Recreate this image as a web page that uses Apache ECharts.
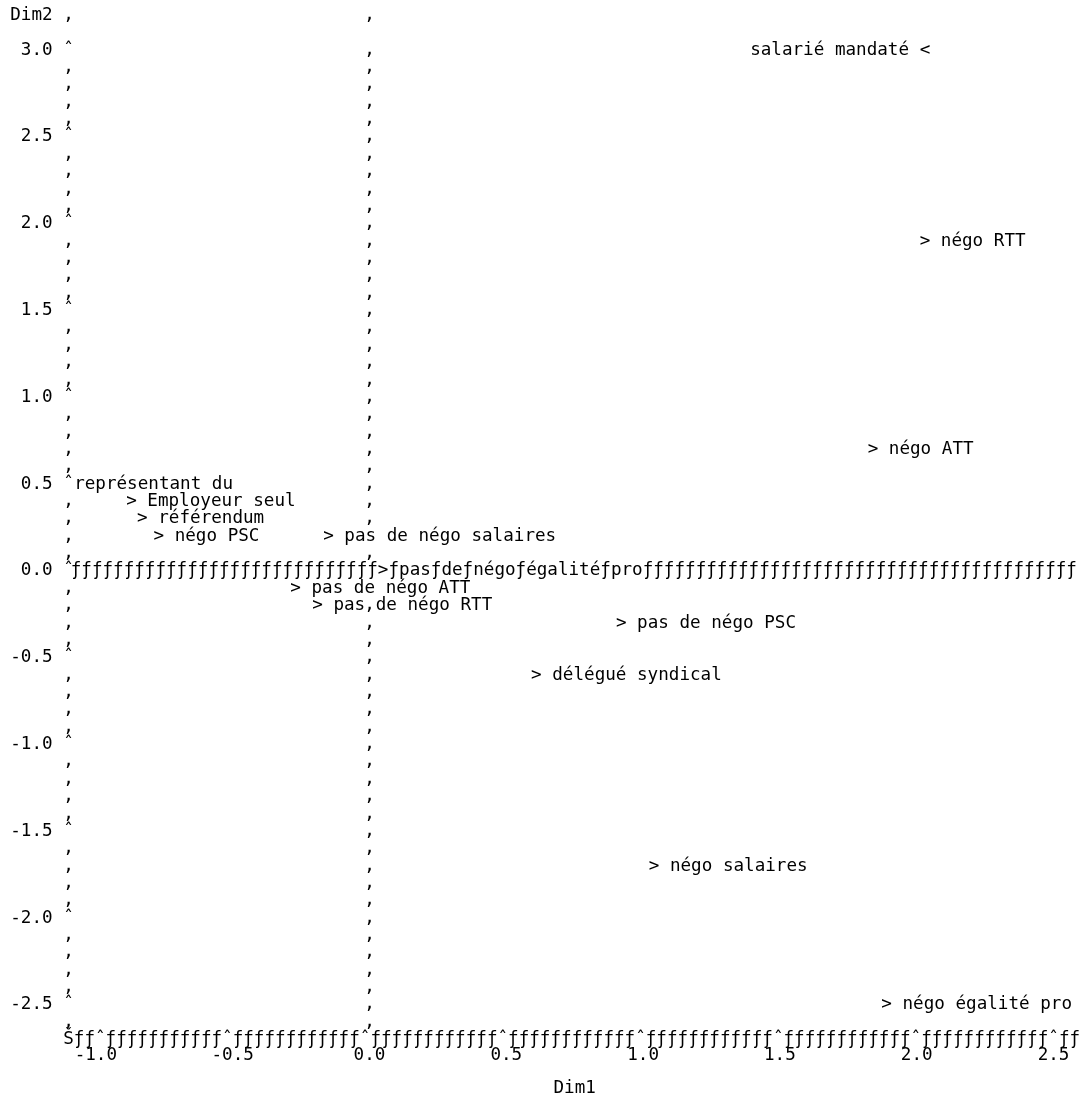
<!DOCTYPE html>
<html><head><meta charset="utf-8">
<script src="https://cdn.jsdelivr.net/npm/echarts@6/dist/echarts.min.js"></script>
<style>html,body{margin:0;padding:0;background:#fff}#chart{width:1082px;height:1100px}</style>
</head><body><div id="chart"></div>
<script>
// ---------- data ----------
const categories = ['salarié mandaté', 'négo RTT', 'négo ATT', 'représentant du', 'Employeur seul',
  'référendum', 'négo PSC', 'pas de négo salaires', 'pas de négo égalité pro', 'pas de négo ATT',
  'pas de négo RTT', 'pas de négo PSC', 'délégué syndical', 'négo salaires', 'négo égalité pro'];
const dim1 = [2.03, 2.03, 1.84, -1.06, -0.87, -0.83, -0.77, -0.15, 0.05, -0.27, -0.19, 0.92, 0.61, 1.04, 1.89];
const dim2 = [3.0, 1.9, 0.7, 0.5, 0.4, 0.3, 0.2, 0.2, 0.0, -0.1, -0.2, -0.3, -0.6, -1.7, -2.5];
const labelOnLeft = ['salarié mandaté'];
const noPointer = ['représentant du'];
const xTicks = [-1.0, -0.5, 0.0, 0.5, 1.0, 1.5, 2.0, 2.5];
const yTicks = [3.0, 2.5, 2.0, 1.5, 1.0, 0.5, 0.0, -0.5, -1.0, -1.5, -2.0, -2.5];
const xTitle = 'Dim1';
const yTitle = 'Dim2';

// ---------- layout ----------
const FONT = '"DejaVu Sans Mono", monospace';
const FS = 17.6;
const X_MIN = -1.1, X_MAX = 2.6, Y_MIN = -2.7, Y_MAX = 3.2, STEP = 0.1;
const GRID = { left: 68.5, right: 1.1, top: 15.4, bottom: 60.4 };
const W = 1082;
const pxPerX = (W - GRID.left - GRID.right) / (X_MAX - X_MIN);
const ctx = document.createElement('canvas').getContext('2d');
ctx.font = FS + 'px ' + FONT;
const pitch = ctx.measureText('ƒ'.repeat(100)).width / 100;
const cw = pitch / pxPerX;               // one character width in Dim1 units
const lastCol = Math.floor((X_MAX - X_MIN) / cw);
const row = v => Math.round(v * 10);

function pointText(i) {
  const n = categories[i];
  let t;
  if (noPointer.includes(n)) t = n;
  else if (labelOnLeft.includes(n)) t = n + ' <';
  else t = '> ' + n;
  if (row(dim2[i]) === 0) t = t.replace(/ /g, 'ƒ');   // label lying on the reference line
  return t;
}
function firstCharX(i) {
  const t = pointText(i);
  return labelOnLeft.includes(categories[i]) ? dim1[i] - (t.length - 1) * cw : dim1[i];
}
function coversZero(r) {
  for (let i = 0; i < categories.length; i++) {
    if (row(dim2[i]) !== r) continue;
    const t = pointText(i);
    const k = Math.round((0 - firstCharX(i)) / cw);
    if (k >= 0 && k < t.length && t[k] !== ' ') return true;
  }
  return false;
}

const txt = { fontFamily: FONT, fontSize: FS, color: '#000', textBorderWidth: 0, opacity: 1 };
const lbl = (text, right) => Object.assign({
  show: true, formatter: text, position: [0.5, 0.5],
  align: right ? 'right' : 'left', verticalAlign: 'middle',
  offset: [right ? pitch / 2 : -pitch / 2, 0]
}, txt);

// frame rows made of characters
let bottomRow = '';
const tickCols = xTicks.map(t => Math.round((t - X_MIN) / cw));
for (let c = 0; c <= lastCol; c++) {
  bottomRow += c === 0 ? 'Š' : (tickCols.includes(c) ? 'ˆ' : 'ƒ');
}
const frameData = [{ value: [X_MIN, Y_MIN], label: lbl(bottomRow, false) }];

// reference line at Dim2 = 0, interrupted by labels lying on it
const onLine = categories.map((n, i) => i).filter(i => row(dim2[i]) === 0)
  .sort((a, b) => firstCharX(a) - firstCharX(b));
let s = X_MIN + cw;
onLine.forEach(i => {
  const f = firstCharX(i);
  const n = Math.round((f - s) / cw);
  if (n > 0) frameData.push({ value: [f - cw, 0], label: lbl('ƒ'.repeat(n), true) });
  s = f + pointText(i).length * cw;
});
const nEnd = Math.floor((X_MAX - s) / cw + 0.5);
if (nEnd > 0) frameData.push({ value: [s, 0], label: lbl('ƒ'.repeat(nEnd), false) });

const pointData = categories.map((n, i) => ({
  name: n, value: [dim1[i], dim2[i]], label: lbl(pointText(i), labelOnLeft.includes(n))
}));

const noLines = { axisTick: { show: false }, splitLine: { show: false } };

const chart = echarts.init(document.getElementById('chart'), null, { renderer: 'canvas' });
chart.setOption({
  animation: false,
  backgroundColor: '#fff',
  grid: Object.assign({ containLabel: false, outerBoundsMode: 'none' }, GRID),
  xAxis: [Object.assign({
    type: 'value', min: X_MIN, max: X_MAX, interval: STEP, position: 'bottom',
    axisLine: { show: false, onZero: false },
    name: xTitle, nameLocation: 'middle', nameGap: 49,
    nameTextStyle: Object.assign({ verticalAlign: 'middle' }, txt),
    axisLabel: Object.assign({
      margin: 15.4, verticalAlign: 'middle', hideOverlap: false, showMinLabel: true, showMaxLabel: true,
      formatter: v => { const t = xTicks.find(x => row(x) === row(v)); return t === undefined ? '' : t.toFixed(1); }
    }, txt)
  }, noLines)],
  yAxis: [
    Object.assign({
      type: 'value', min: Y_MIN, max: Y_MAX, interval: STEP, position: 'left',
      axisLine: { show: false, onZero: false },
      axisLabel: Object.assign({
        margin: -pitch / 2, align: 'right', verticalAlign: 'middle', hideOverlap: false,
        showMinLabel: true, showMaxLabel: true,
        formatter: v => {
          const r = row(v);
          if (r === row(Y_MAX)) return yTitle + ' ‚';
          if (r === row(Y_MIN)) return '';
          const t = yTicks.find(y => row(y) === r);
          return t === undefined ? '‚' : t.toFixed(1) + ' ˆ';
        }
      }, txt)
    }, noLines),
    Object.assign({
      type: 'value', min: Y_MIN, max: Y_MAX, interval: STEP, position: 'left',
      offset: -(0 - X_MIN) * pxPerX,
      axisLine: { show: false, onZero: false },
      axisLabel: Object.assign({
        margin: -pitch / 2, align: 'right', verticalAlign: 'middle', hideOverlap: false,
        showMinLabel: true, showMaxLabel: true,
        formatter: v => {
          const r = row(v);
          if (r === 0 || r === row(Y_MIN)) return '';
          return coversZero(r) ? '' : '‚';
        }
      }, txt)
    }, noLines)
  ],
  series: [
    { type: 'scatter', name: 'frame', z: 1, silent: true, symbolSize: 1,
      itemStyle: { color: 'rgba(0,0,0,0)' }, emphasis: { disabled: true }, data: frameData },
    { type: 'scatter', name: 'points', z: 3, silent: true, symbolSize: 1,
      itemStyle: { color: 'rgba(0,0,0,0)' }, emphasis: { disabled: true }, data: pointData }
  ]
});
</script>
</body></html>
